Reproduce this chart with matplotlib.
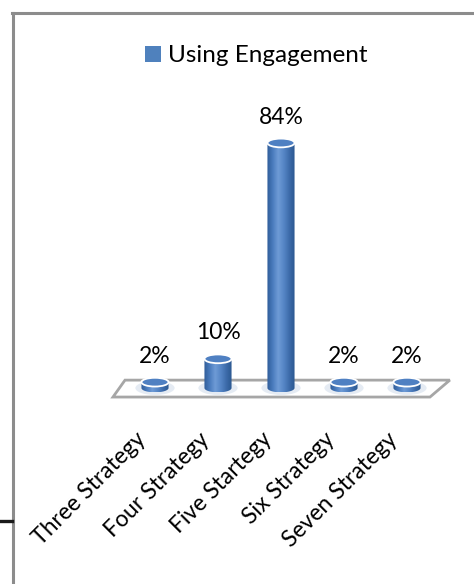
import matplotlib
matplotlib.use('Agg')
import matplotlib.pyplot as plt
from matplotlib.patches import Polygon, Ellipse, Patch
from matplotlib.colors import LinearSegmentedColormap
from matplotlib.lines import Line2D
import numpy as np

plt.rcParams['font.family'] = ['Lato', 'DejaVu Sans']

# Datos
categorias = ["Three Strategy", "Four Strategy", "Five Startegy", "Six Strategy", "Seven Strategy"]
valores = [2, 10, 84, 2, 2]
serie = "Using Engagement"

fig = plt.figure(figsize=(4.74, 5.84), dpi=100)
ax = fig.add_axes([100/474, 164/584, 370/474, 320/584])
ax.set_xlim(-0.873, 5.0)
ax.set_ylim(-10.97, 98.73)
ax.axis('off')

# Marco del grafico
gris = '#8c8c8c'
fig.add_artist(Line2D([13/474, 13/474], [0, 1 - 13/584], color=gris, lw=2.2,
                      transform=fig.transFigure))
fig.add_artist(Line2D([12/474, 1], [1 - 13/584, 1 - 13/584], color=gris, lw=2.2,
                      transform=fig.transFigure))
fig.add_artist(Line2D([0, 12/474], [1 - 521/584, 1 - 521/584], color='#1a1a1a', lw=2.4,
                      transform=fig.transFigure))

# Suelo en perspectiva
suelo = Polygon([(-0.476, 2.7), (4.68, 2.7), (4.365, -3.1), (-0.667, -3.1)],
                closed=True, facecolor='white', edgecolor='#a6a6a6', lw=2, zorder=1)
ax.add_patch(suelo)

# Cilindros
w = 0.43
eh = 3.0
cmap = LinearSegmentedColormap.from_list(
    'cil', ['#2f5d99', '#4a7bbd', '#6e9bd6', '#5686c6', '#3d6cab', '#2c5890'])
grad = np.linspace(0, 1, 64).reshape(1, -1)
t = np.linspace(np.pi, 2*np.pi, 40)

for i, v in enumerate(valores):
    # sombra suave
    ax.add_patch(Ellipse((i, 0), w*1.45, eh*1.6, facecolor='#dfe7f1',
                         edgecolor='none', alpha=0.8, zorder=2))
    pts = [(i - w/2, v), (i - w/2, 0)]
    pts += list(zip(i + w/2*np.cos(t), eh/2*np.sin(t)))
    pts += [(i + w/2, v)]
    cuerpo = Polygon(pts, closed=True, facecolor='none', edgecolor='none', zorder=3)
    ax.add_patch(cuerpo)
    im = ax.imshow(grad, cmap=cmap, aspect='auto', zorder=3,
                   extent=[i - w/2, i + w/2, -eh/2, v])
    im.set_clip_path(cuerpo)
    ax.add_patch(Ellipse((i, v), w, eh, facecolor='#4f80c2', edgecolor='white',
                         lw=1.3, zorder=4))
    ax.text(i, v + 5.3, f"{v}%", ha='center', va='bottom', fontsize=16.5, zorder=5)

# Etiquetas del eje
for i, c in enumerate(categorias):
    ax.text(i - 0.2, -16.5, c, rotation=45, rotation_mode='anchor', ha='right',
            va='center', fontsize=16.5, clip_on=False)

fig.legend(handles=[Patch(facecolor='#4f81bd', edgecolor='none', label=serie)],
           loc='center', bbox_to_anchor=(256/474, 1 - 56/584), frameon=False,
           fontsize=17.5, handlelength=0.65, handleheight=0.65, handletextpad=0.3)

fig.savefig('out.png', dpi=100)
